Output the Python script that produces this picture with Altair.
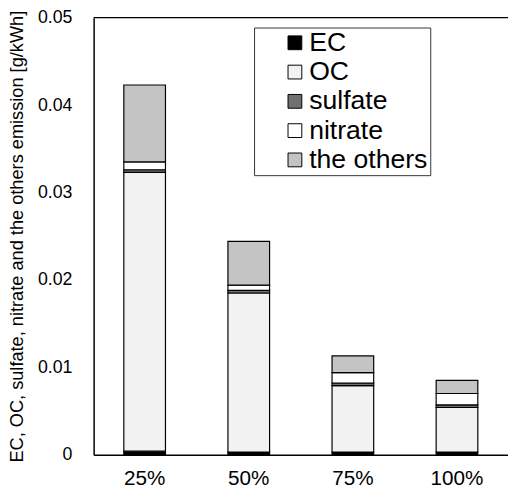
import altair as alt
import pandas as pd

loads = ["25%", "50%", "75%", "100%"]
components = ["EC", "OC", "sulfate", "nitrate", "the others"]
EC = [0.0004, 0.0003, 0.0003, 0.0003]
OC = [0.0319, 0.0182, 0.0076, 0.0051]
sulfate = [0.0003, 0.0003, 0.0003, 0.0003]
nitrate = [0.0009, 0.0006, 0.0012, 0.0013]
others = [0.0088, 0.0050, 0.0019, 0.0015]
y_ticks = [0, 0.01, 0.02, 0.03, 0.04, 0.05]
fills = ["#000000", "#f2f2f2", "#707070", "#ffffff", "#c4c4c4"]

series = [EC, OC, sulfate, nitrate, others]
rows = []
for ci, (name, vals) in enumerate(zip(components, series)):
    for load, v in zip(loads, vals):
        rows.append({"load": load, "comp": name, "value": v, "order": ci})
df = pd.DataFrame(rows)

FONT = "Liberation Sans"
NB = "\u00a0"
EN = "\u2002"

bars = alt.Chart(df).mark_bar(stroke="black", strokeWidth=1.2).encode(
    x=alt.X(
        "load:N",
        sort=loads,
        scale=alt.Scale(paddingInner=0.6, paddingOuter=0.29),
        axis=alt.Axis(
            title=None, labelAngle=0, ticks=False, labelPadding=13,
            labelFontSize=21, labelFont=FONT, labelColor="black",
            domainColor="black", domainWidth=1.5,
        ),
    ),
    y=alt.Y(
        "value:Q",
        stack="zero",
        scale=alt.Scale(domain=[0, 0.05], nice=False),
        axis=alt.Axis(
            values=y_ticks, grid=False, ticks=False, labelPadding=22,
            labelExpr="datum.value == 0 ? '0' : format(datum.value, '.2f')",
            labelFontSize=18, labelFont=FONT, labelColor="black",
            domainColor="black", domainWidth=1.5,
            title="EC, OC, sulfate, nitrate and the others emission [g/kWh]",
            titleFontSize=18.5, titleFont=FONT, titleFontWeight="normal",
            titleColor="black", titlePadding=11,
        ),
    ),
    color=alt.Color(
        "comp:N",
        scale=alt.Scale(domain=components, range=fills),
        legend=alt.Legend(
            title=None, orient="none", legendX=163, legendY=10,
            strokeColor="#333333", fillColor="white", padding=2,
            symbolType="square", symbolSize=196, symbolStrokeColor="black",
            symbolStrokeWidth=1, symbolOffset=26, labelOffset=1,
            labelFontSize=27, labelFont=FONT, labelColor="black",
            rowPadding=1.75,
            labelExpr=f"datum.label == 'OC' ? '{NB}OC{EN}{EN}' : datum.label + '{EN}{EN}'",
        ),
    ),
    order=alt.Order("order:Q"),
)

top_line = alt.Chart(pd.DataFrame({"a": [0]})).mark_rule(
    color="black", strokeWidth=1.2
).encode(y=alt.value(0))

chart = alt.layer(bars, top_line).properties(
    width=421,
    height=444,
    autosize=alt.AutoSizeParams(type="none"),
    padding={"left": 87, "top": 6, "right": 0, "bottom": 31},
).configure_view(stroke="transparent")

chart.save("out.html", embed_options={"renderer": "svg", "actions": False})
